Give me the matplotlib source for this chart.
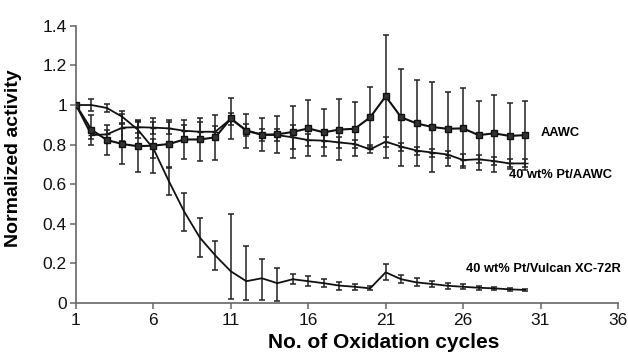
import matplotlib
matplotlib.use("Agg")
import matplotlib.pyplot as plt

plt.rcParams['font.family'] = ['Liberation Sans', 'DejaVu Sans']

cycles = list(range(1, 31))

aawc = [1.0, 0.875, 0.823, 0.803, 0.792, 0.795, 0.803, 0.826, 0.826, 0.837,
        0.932, 0.870, 0.850, 0.852, 0.864, 0.882, 0.862, 0.876, 0.880, 0.938,
        1.044, 0.938, 0.907, 0.889, 0.880, 0.882, 0.848, 0.857, 0.844, 0.848]
aawc_err = [0, 0.077, 0.074, 0.10, 0.13, 0.14, 0.12, 0.10, 0.11, 0.115,
            0.105, 0.087, 0.084, 0.095, 0.13, 0.141, 0.117, 0.156, 0.135, 0.152,
            0.31, 0.244, 0.217, 0.228, 0.186, 0.202, 0.174, 0.193, 0.166, 0.174]

pt_aawc = [1.0, 0.848, 0.852, 0.886, 0.888, 0.886, 0.882, 0.870, 0.865, 0.865,
           0.930, 0.873, 0.850, 0.848, 0.837, 0.823, 0.820, 0.811, 0.803, 0.776,
           0.815, 0.790, 0.770, 0.760, 0.750, 0.722, 0.726, 0.717, 0.705, 0.705]
pt_aawc_err = [0, 0.02, 0.02, 0.07, 0.03, 0.03, 0.03, 0.03, 0.05, 0.03,
               0.03, 0.03, 0.03, 0.03, 0.06, 0.03, 0.03, 0.03, 0.02, 0.02,
               0.025, 0.02, 0.02, 0.02, 0.02, 0.03, 0.02, 0.02, 0.02, 0.02]

vulcan = [1.0, 1.0, 0.985, 0.94, 0.875, 0.78, 0.615, 0.46, 0.33, 0.24,
          0.16, 0.11, 0.125, 0.10, 0.12, 0.11, 0.10, 0.088, 0.082, 0.074,
          0.155, 0.12, 0.104, 0.096, 0.087, 0.082, 0.077, 0.074, 0.069, 0.066]
vulcan_err_lo = [0, 0.03, 0.02, 0.03, 0.04, 0.05, 0.07, 0.097, 0.097, 0.075,
                 0.14, 0.095, 0.11, 0.09, 0.025, 0.025, 0.02, 0.02, 0.015, 0.01,
                 0.04, 0.02, 0.02, 0.015, 0.015, 0.012, 0.01, 0.008, 0.006, 0.006]
vulcan_err_hi = [0, 0.03, 0.02, 0.03, 0.04, 0.05, 0.07, 0.097, 0.097, 0.075,
                 0.29, 0.18, 0.095, 0.075, 0.025, 0.025, 0.02, 0.02, 0.015, 0.01,
                 0.04, 0.02, 0.02, 0.015, 0.015, 0.012, 0.01, 0.008, 0.006, 0.006]

xticks = [1, 6, 11, 16, 21, 26, 31, 36]
yticks = [0, 0.2, 0.4, 0.6, 0.8, 1.0, 1.2, 1.4]
ytick_labels = ['0', '0.2', '0.4', '0.6', '0.8', '1', '1.2', '1.4']

fig = plt.figure(figsize=(6.28, 3.59), dpi=100)
ax = fig.add_axes([0.121, 0.156, 0.863, 0.772])

ebkw = dict(ecolor='#222222', elinewidth=1.1, capsize=2.5, capthick=1.1)

ax.errorbar(cycles, vulcan, yerr=[vulcan_err_lo, vulcan_err_hi], color='#111111',
            lw=1.3, **ebkw, zorder=3)
ax.errorbar(cycles, pt_aawc, yerr=pt_aawc_err, color='#111111', lw=1.3,
            marker='_', markersize=5, **ebkw, zorder=3)
ax.errorbar(cycles, aawc, yerr=aawc_err, color='#111111', lw=1.5,
            marker='s', markersize=4, markerfacecolor='#333333',
            markeredgecolor='#111111', **ebkw, zorder=4)

ax.set_xlim(1, 36)
ax.set_ylim(0, 1.4)
ax.set_xticks(xticks)
ax.set_yticks(yticks)
ax.set_yticklabels(ytick_labels)

for s in ['top', 'right']:
    ax.spines[s].set_visible(False)
for s in ['left', 'bottom']:
    ax.spines[s].set_color('#666666')
    ax.spines[s].set_linewidth(1.2)
ax.tick_params(axis='both', direction='out', length=4, width=1.1, color='#666666',
               labelsize=12.5, labelcolor='#111111')
ax.tick_params(axis='y', pad=2.5)

ax.set_xlabel('No. of Oxidation cycles', fontsize=15, fontweight='bold')
ax.xaxis.set_label_coords(0.568, -0.107)
ax.set_ylabel('Normalized activity', fontsize=14, fontweight='bold')
ax.yaxis.set_label_coords(-0.1, 0.523)

ax.text(31.0, 0.86, 'AAWC', fontsize=9.3, fontweight='bold', va='center', ha='left')
ax.text(28.95, 0.646, '40 wt% Pt/AAWC', fontsize=9.3, fontweight='bold', va='center', ha='left')
ax.text(26.2, 0.172, '40 wt% Pt/Vulcan XC-72R', fontsize=9.3, fontweight='bold', va='center', ha='left')

fig.savefig('out.png', dpi=100)
